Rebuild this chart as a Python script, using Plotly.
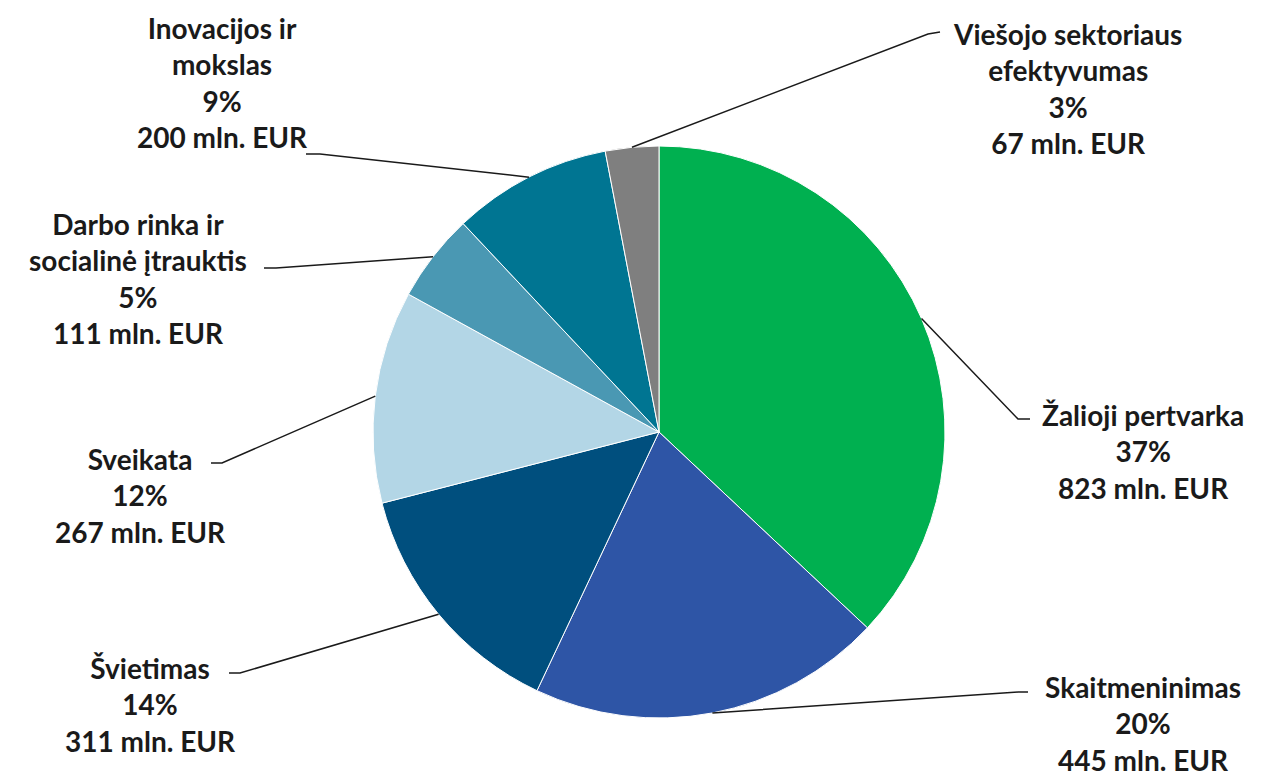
import math
import plotly.graph_objects as go

# ---- data ----
categories = ["Žalioji pertvarka", "Skaitmeninimas", "Švietimas", "Sveikata",
              "Darbo rinka ir<br>socialinė įtrauktis", "Inovacijos ir<br>mokslas",
              "Viešojo sektoriaus<br>efektyvumas"]
values = [823, 445, 311, 267, 111, 200, 67]
percents = [37, 20, 14, 12, 5, 9, 3]
colors = ["#00B050", "#2E55A6", "#004F7E", "#B3D6E6", "#4A98B3", "#007592", "#7F7F7F"]

# page geometry: the browser body has an 8px margin, so the figure starts at (8, 8)
PAGE_W, PAGE_H = 1268, 781
OFF = 8
W, H = PAGE_W - OFF, PAGE_H - OFF
CX, CY, R = 659, 432, 286  # pie centre / radius in page pixels (layout)

# label layout: text centre (x, y) and leader start point + elbow (page pixels)
label_pos = [
    (1143, 451, (1030, 419), (1018, 419)),
    (1143, 723, (1028, 692), (1018, 692)),
    (150, 704, (229, 673), (240, 673)),
    (140, 495, (211, 463), (222, 463)),
    (138, 278, (264, 268), (276, 268)),
    (222, 82, (306, 154), (320, 154)),
    (1067, 88, (940, 32), (928, 34)),
]

fig = go.Figure()
fig.add_trace(go.Pie(
    labels=categories, values=values, sort=False, direction="clockwise", rotation=0,
    marker=dict(colors=colors, line=dict(color="white", width=1)),
    textinfo="none", hoverinfo="label+value+percent", showlegend=False,
    domain=dict(x=[(CX - R - OFF) / W, (CX + R - OFF) / W],
                y=[1 - (CY + R - OFF) / H, 1 - (CY - R - OFF) / H]),
))

# invisible page-pixel axes for annotations and leader lines
fig.update_xaxes(range=[OFF, PAGE_W], visible=False, fixedrange=True)
fig.update_yaxes(range=[PAGE_H, OFF], visible=False, fixedrange=True)

total = sum(values)
cum = 0
for i, v in enumerate(values):
    mid = (cum + v / 2) / total * 2 * math.pi
    cum += v
    ax = CX + R * math.sin(mid)
    ay = CY - R * math.cos(mid)
    tx, ty, (sx, sy), (ex, ey) = label_pos[i]
    fig.add_shape(type="path", xref="x", yref="y",
                  path=f"M {sx} {sy} L {ex} {ey} L {ax:.1f} {ay:.1f}",
                  line=dict(color="#1a1a1a", width=1.5))
    text = f"{categories[i]}<br>{percents[i]}%<br>{values[i]} mln. EUR"
    fig.add_annotation(x=tx, y=ty, xref="x", yref="y", text=text, showarrow=False,
                       xanchor="center", yanchor="middle", align="center",
                       font=dict(family="Lato", size=28, color="#1a1a1a", weight="bold"))

fig.update_layout(width=W, height=H, margin=dict(l=0, r=0, t=0, b=0),
                  paper_bgcolor="white", plot_bgcolor="white")
fig.write_html("out.html")
